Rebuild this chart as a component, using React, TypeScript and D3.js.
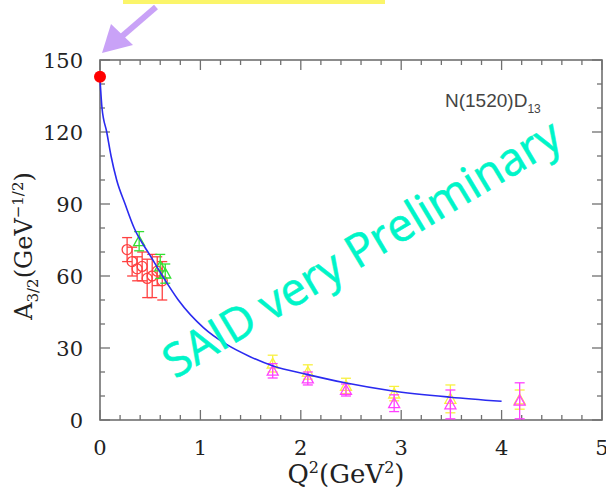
import React from "react";
import * as d3 from "d3";

// Fitted amplitude curve, sampled along Q^2 (GeV^2) -> A_3/2
const curveQ2 = [0, 0.02, 0.067, 0.11, 0.166, 0.25, 0.34, 0.5, 0.63, 0.78, 1.03, 1.26, 1.49, 1.725, 2.06, 2.44, 2.9, 3.49, 4.0];
const curveA = [142, 130, 120, 110, 100, 90, 80, 68.5, 59.5, 50, 38.5, 31.5, 26.5, 22.5, 19, 15.5, 12.2, 9.5, 7.8];

// Photon point at Q^2 = 0
const photonQ2 = 0;
const photonA = 143;

// Red circles: [Q2, A, error]
const redQ2 = [0.27, 0.32, 0.37, 0.42, 0.47, 0.52, 0.57, 0.62];
const redA = [71, 66, 63, 64, 59, 60, 62, 58];
const redErr = [5, 6, 5, 6, 8, 9, 6, 8];

// Green triangles
const greenQ2 = [0.39, 0.6, 0.65];
const greenA = [74.5, 64, 61];
const greenErr = [4, 5, 4];

// Yellow triangles
const yellowQ2 = [1.72, 2.07, 2.45, 2.93, 3.49, 4.18];
const yellowA = [23.5, 20, 14.2, 11, 8.8, 8.5];
const yellowErr = [3.5, 3, 3.2, 3, 5.8, 4];

// Magenta triangles
const magentaQ2 = [1.72, 2.07, 2.45, 2.93, 3.49, 4.18];
const magentaA = [20.5, 17.3, 12.5, 7, 6.5, 8];
const magentaErr = [3, 2.7, 2.5, 3.5, 6, 7.5];

const xTicks = [0, 1, 2, 3, 4, 5];
const yTicks = [0, 30, 60, 90, 120, 150];

const W = 606;
const H = 490;
const x = d3.scaleLinear().domain([0, 5]).range([100, 602]);
const y = d3.scaleLinear().domain([0, 150]).range([420, 60]);

const axisColor = "#707070";
const serif = "'DejaVu Serif', serif";

function ErrorBars({ qs, as, es, color }: { qs: number[]; as: number[]; es: number[]; color: string }) {
  return (
    <g stroke={color} strokeWidth={1.3} fill="none">
      {qs.map((q, i) => {
        const cx = x(q);
        const top = y(as[i] + es[i]);
        const bot = y(as[i] - es[i]);
        return (
          <g key={i}>
            <line x1={cx} x2={cx} y1={top} y2={bot} />
            <line x1={cx - 5} x2={cx + 5} y1={top} y2={top} />
            <line x1={cx - 5} x2={cx + 5} y1={bot} y2={bot} />
          </g>
        );
      })}
    </g>
  );
}

function Triangles({ qs, as, color }: { qs: number[]; as: number[]; color: string }) {
  return (
    <g stroke={color} strokeWidth={1.3} fill="none">
      {qs.map((q, i) => {
        const cx = x(q);
        const cy = y(as[i]);
        const s = 5.5;
        return <path key={i} d={`M${cx},${cy - s}L${cx + s},${cy + s * 0.8}L${cx - s},${cy + s * 0.8}Z`} />;
      })}
    </g>
  );
}

export default function App() {
  const line = d3
    .line<number>()
    .x((_, i) => x(curveQ2[i]))
    .y((a) => y(a))
    .curve(d3.curveMonotoneX);

  const xMinor = d3.range(0, 5.0001, 0.2);
  const yMinor = d3.range(0, 150.0001, 10);
  const isMajorX = (v: number) => Math.abs(v - Math.round(v)) < 1e-6;
  const isMajorY = (v: number) => Math.round(v) % 30 === 0;

  const [x0, x1] = x.range();
  const [y0, y1] = y.range();

  return (
    <svg width={W} height={H} style={{ position: "absolute", left: 0, top: 0, background: "#fff" }}>
      {/* highlight strip */}
      <rect x={123} y={0} width={262} height={4} fill="#fbf56a" />

      {/* frame */}
      <rect x={x0} y={y1} width={x1 - x0} height={y0 - y1} fill="none" stroke={axisColor} strokeWidth={1.6} />

      {/* x ticks, bottom and top; y ticks, left and right */}
      <g stroke={axisColor} strokeWidth={1.3}>
        {xMinor.map((v, i) => {
          const len = isMajorX(v) ? 10 : 5;
          return (
            <g key={i}>
              <line x1={x(v)} x2={x(v)} y1={y0} y2={y0 - len} />
              <line x1={x(v)} x2={x(v)} y1={y1} y2={y1 + len} />
            </g>
          );
        })}
        {yMinor.map((v, i) => {
          const len = isMajorY(v) ? 10 : 5;
          return (
            <g key={i}>
              <line x1={x0} x2={x0 + len} y1={y(v)} y2={y(v)} />
              <line x1={x1} x2={x1 - len} y1={y(v)} y2={y(v)} />
            </g>
          );
        })}
      </g>

      {/* tick labels */}
      <g fontFamily={serif} fontSize={21} fill="#222">
        {xTicks.map((v) => (
          <text key={v} x={x(v)} y={455} textAnchor="middle">
            {v}
          </text>
        ))}
        {yTicks.map((v) => (
          <text key={v} x={83} y={y(v) + 8} textAnchor="end">
            {v}
          </text>
        ))}
      </g>

      {/* axis titles */}
      <text x={346} y={483} textAnchor="middle" fontFamily={serif} fontSize={26} fill="#222">
        Q<tspan dy={-10} fontSize={16}>2</tspan>
        <tspan dy={10}>(GeV</tspan>
        <tspan dy={-10} fontSize={16}>2</tspan>
        <tspan dy={10}>)</tspan>
      </text>
      <text
        transform="translate(32,246) rotate(-90)"
        textAnchor="middle"
        fontFamily={serif}
        fontSize={24}
        fill="#222"
      >
        A<tspan dy={6} fontSize={15}>3/2</tspan>
        <tspan dy={-6}>(GeV</tspan>
        <tspan dy={-9} fontSize={15}>−1/2</tspan>
        <tspan dy={9}>)</tspan>
      </text>

      {/* state label */}
      <text x={445} y={107} fontFamily="'Liberation Sans', sans-serif" fontSize={19} fill="#444">
        N(1520)D<tspan dy={6} fontSize={12}>13</tspan>
      </text>

      {/* data */}
      <ErrorBars qs={redQ2} as={redA} es={redErr} color="#ff4040" />
      <g stroke="#ff4040" strokeWidth={1.3} fill="none">
        {redQ2.map((q, i) => (
          <circle key={i} cx={x(q)} cy={y(redA[i])} r={5} />
        ))}
      </g>
      <ErrorBars qs={greenQ2} as={greenA} es={greenErr} color="#33e033" />
      <Triangles qs={greenQ2} as={greenA} color="#33e033" />
      <ErrorBars qs={yellowQ2} as={yellowA} es={yellowErr} color="#f8f040" />
      <Triangles qs={yellowQ2} as={yellowA} color="#f8f040" />
      <ErrorBars qs={magentaQ2} as={magentaA} es={magentaErr} color="#ff40ff" />
      <Triangles qs={magentaQ2} as={magentaA} color="#ff40ff" />

      {/* fit curve */}
      <path d={line(curveA) || ""} fill="none" stroke="#2a2af0" strokeWidth={1.6} />
      <circle cx={x(photonQ2)} cy={y(photonA)} r={6} fill="#ff0000" />

      {/* watermark */}
      <text
        transform="translate(370,262) rotate(-31)"
        textAnchor="middle"
        fontFamily="'Comic Sans MS', 'Open Sans', sans-serif"
        fontSize={46}
        fill="#00f5c8"
        stroke="#00f5c8"
        strokeWidth={0.6}
        textLength={455}
        lengthAdjust="spacingAndGlyphs"
      >
        SAID very Preliminary
      </text>

      {/* pointer arrow */}
      <line x1={156} y1={7} x2={120} y2={38} stroke="#c9a2f7" strokeWidth={6} />
      <path d="M102,53 L111,24 L133,45 Z" fill="#c9a2f7" />
    </svg>
  );
}
